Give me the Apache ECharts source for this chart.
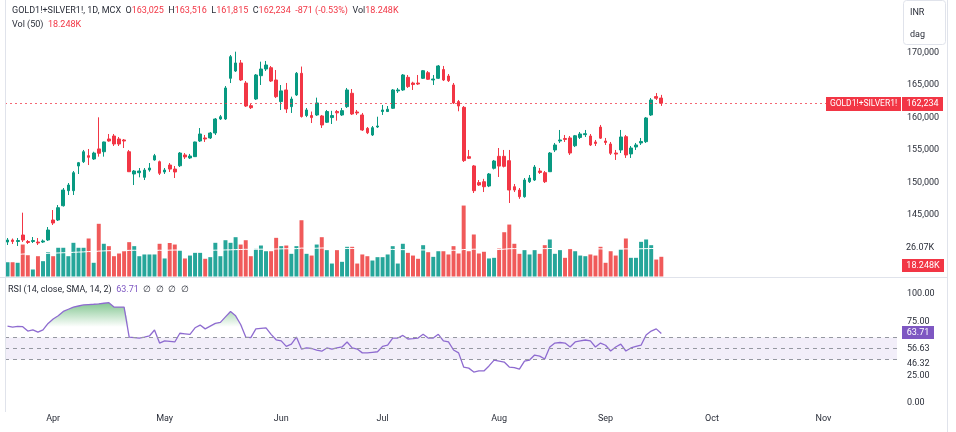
<!DOCTYPE html>
<html><head><meta charset="utf-8">
<script src="https://cdn.jsdelivr.net/npm/echarts@6/dist/echarts.min.js"></script>
<style>html,body{margin:0;padding:0;background:#fff}#c{width:956px;height:432px}</style>
</head><body><div id="c"></div>
<script>
// ---- trading days (2024) ----
const marDays=[19,20,21,22,25,26,27,28,29];
const aprDays=[1,2,3,4,5,8,9,10,11,12,15,16,17,18,19,22,23,24,25,26,29,30];
const mayDays=[1,2,3,6,7,8,9,10,13,14,15,16,17,20,21,22,23,24,27,28,29,30,31];
const junDays=[3,4,5,6,7,10,11,12,13,14,17,18,19,20,21,24,25,26,27,28];
const julDays=[1,2,3,4,5,8,9,10,11,12,15,16,17,18,19,22,23,24,25,26,29,30,31];
const augDays=[1,2,5,6,7,8,9,12,13,14,16,19,20,21,22,23,26,27,28,29,30];
const sepDays=[2,3,4,5,6,9,10,11,12,13,16,17,18,19,20,23,24,25,26,27,30];
const octDays=[1,3,4,7,8,9,10,11,14,15,16,17,18,21,22,23,24,25,28,29,30,31];
const novDays=[1,4,5,6,7,8,11,12,13,14,15,18,19,20,21];
const monthNames=['Jan','Feb','Mar','Apr','May','Jun','Jul','Aug','Sep','Oct','Nov','Dec'];

// ---- OHLC [open, high, low, close] ----
const ohlc=[
[140850,141470,140390,141160],[141160,141390,140550,140930],[140930,141470,140240,141080],[141930,145370,140850,141160],
[140930,141160,140550,140780],[140930,141620,140700,141080],[140850,141470,140390,140700],[140850,141240,140700,141010],
[141160,143160,141010,142700],[144240,145780,143470,143780],[144240,146550,144090,146140],[146440,149170,146310,148860],
[148760,149940,148090,149630],[148760,151790,148090,151530],[152560,153180,151330,153070],[153220,155030,153020,154760],
[154150,155180,152710,153900],[153640,154760,153490,154560],[155190,160060,154000,154520],[154760,156310,154000,156260],
[156720,157490,156310,156410],[157180,157490,155640,155950],[156720,157030,155640,155950],[156570,156720,155330,156410],
[154760,155030,151640,151680],[151330,151940,149630,151790],[151530,152250,150820,151790],[150820,152250,150400,151940],
[151940,153020,151680,152250],[153490,154420,153390,154150],[153220,153390,151170,151440],[151640,152250,151330,151940],
[152710,153020,151640,152090],[152090,152560,150710,151640],[152600,154710,152400,154560],[154260,154560,153640,153950],
[153800,154420,153640,154100],[154000,156310,153950,156260],[156410,158410,156260,157490],[156880,157340,156260,156720],
[156880,157800,156720,157640],[157640,159950,157340,159800],[159800,160420,159650,160150],[159800,164880,159650,164580],
[166070,169660,165340,169400],[167190,170170,167040,168430],[168430,168890,165650,165810],[165340,165650,161650,161800],
[161850,162110,161340,161540],[162880,166730,162730,166580],[166470,168630,165040,167500],[167500,168740,167190,168120],
[167700,167960,165500,165650],[165810,167350,163030,163240],[162480,165040,161190,164130],[164270,165350,160730,161340],
[161700,163240,160730,162880],[163500,167040,163350,166840],[166840,167880,160020,160180],[160330,161500,160090,161190],
[160330,160950,159180,160020],[160420,163090,160270,162270],[160270,160420,158420,158880],[159300,161190,159180,160950],
[160020,161060,159030,160330],[160950,161190,159540,160750],[160420,161500,160270,161090],[161700,164580,161500,164270],
[163760,164420,160420,160570],[160880,161190,160420,160730],[160420,160730,157960,158110],[158360,158570,157480,157680],
[157340,158720,157180,158460],[158570,160150,158420,158720],[160950,161960,160420,161190],[160950,161800,160880,161300],
[161450,164420,161340,164270],[164130,164580,163810,164270],[164270,166730,164130,166580],[166220,166580,164580,164790],
[165340,165540,164270,165110],[165340,166580,165040,165190],[166070,167350,165960,167240],[166930,167190,165810,165920],
[165810,166580,165040,165960],[166070,168120,165960,167970],[167420,167970,165650,165810],[166420,166730,165500,165700],
[165040,165350,162110,162270],[162480,162730,160990,161800],[161600,161800,153180,153390],[154000,155030,153640,153750],
[152570,152710,148400,148760],[150000,150400,149480,149630],[150140,150580,148550,149370],[149480,151480,149310,151330],
[152210,153490,152030,153330],[154050,155330,150870,152550],[154050,155030,152340,152510],[153380,155030,146860,148860],
[149370,149790,148550,148860],[148860,149170,147500,147830],[147830,150710,147680,150400],[150140,151170,149940,150710],
[150400,152710,150250,152400],[151790,152250,151330,151560],[151530,151790,149940,150140],[151680,154710,151640,154560],
[155030,156110,154710,155800],[156410,158110,156110,156570],[156800,157340,156260,156650],[156880,157180,154260,154560],
[155680,157340,155480,157220],[156960,157800,156720,157490],[157390,158110,157030,157540],[157180,157490,155640,155800],
[156260,156570,155640,156030],[158550,158880,156720,156850],[156410,156880,155800,156180],[155950,156260,154260,154520],
[154560,155030,153490,154400],[155030,158110,154560,157030],[157080,157340,153800,154260],[154420,155640,153800,155330],
[155490,156110,155030,155800],[156110,156880,155800,156340],[156310,160110,156110,159960],[160420,163030,160270,162730],
[163250,163800,162730,163000],[163025,163516,161815,162234]
];

// ---- volume (thousands) ----
const volumeK=[
13.2,13.2,12.7,29.6,19.7,6.5,18.8,14.2,22.5,18.8,26.6,26.6,18.8,31.2,26.6,26.6,35.2,12.7,48.8,30.3,
28.1,18.8,21.3,23.4,31.8,28.1,18.8,20.4,20.4,20.4,30.3,16.7,31.0,29.6,24.1,16.7,19.4,21.9,21.9,16.4,
17.9,31.2,18.8,33.6,31.2,36.4,29.6,33.6,18.8,25.6,28.7,23.4,23.4,35.8,28.1,28.7,21.0,28.1,52.1,21.0,
19.4,29.6,36.4,24.4,12.0,24.4,13.6,27.5,27.5,12.0,20.4,18.8,14.8,17.9,17.9,20.4,28.1,12.0,30.3,21.9,
19.4,16.4,29.0,22.5,18.2,23.4,23.4,20.4,28.1,21.3,65.7,23.4,38.9,21.3,22.9,16.7,17.3,25.9,41.0,48.1,
30.3,21.0,24.4,20.4,24.4,21.0,29.0,34.3,21.0,24.4,17.3,25.6,23.4,19.4,18.8,20.4,19.4,27.5,12.7,23.4,
19.4,25.0,35.2,17.3,17.3,32.1,34.3,29.0,15.7,18.248
];
const volumeMAK=[
20.0,20.2,20.3,20.8,21.0,20.8,21.0,21.1,21.5,21.6,21.8,22.0,22.1,22.4,22.6,22.8,23.1,23.0,23.5,23.7,
23.9,23.9,24.0,24.0,24.2,24.3,24.2,24.2,24.1,24.1,24.3,24.2,24.4,24.5,24.5,24.4,24.4,24.4,24.3,24.2,
24.2,24.4,24.4,24.6,24.7,24.9,25.0,25.2,25.1,25.2,25.3,25.3,25.3,25.5,25.6,25.7,25.7,25.8,26.3,26.2,
26.1,26.2,26.4,26.4,26.2,26.2,26.0,26.0,26.0,25.8,25.7,25.6,25.4,25.3,25.2,25.1,25.1,24.9,24.9,24.8,
24.7,24.6,24.6,24.5,24.4,24.3,24.3,24.2,24.3,24.2,25.0,25.0,25.3,25.2,25.1,25.0,24.9,25.0,25.3,25.7,
25.8,25.8,25.8,25.8,25.8,25.7,25.8,25.9,25.9,25.9,25.8,25.8,25.8,25.7,25.6,25.6,25.6,25.6,25.4,25.4,
25.4,25.5,25.6,25.5,25.5,25.7,25.8,25.9,26.0,26.07
];

// ---- RSI ----
const rsiValues=[
70.6,69.7,70.3,70,66,67,65,67,73,77,80,84,86,88,89,90,90.3,90.6,91,91.5,
92,88,88,88,60.5,60,59.6,60.4,61.5,67,55,57,56.5,56,64,63.5,63,69,71.5,68,
70.5,73,74,79,84,80,72,60.5,60,68,68.5,69,63,58,57,52,54,60.5,49.5,50.5,
50,48.6,47.5,50.5,49.5,50.5,51.4,56,50.5,49.5,46,46,46.5,47,52,53,59.6,59.6,62,58.7,
59,59.6,63,59.6,59.6,63,57,56,48.6,46,33,32,28.4,29.4,29.4,34,39.4,38.5,37.6,33,
32.5,31,38.5,39.4,44,43,40.4,51.4,55,55.5,55,51.4,56,57,57.8,57,51.4,55,53,47.7,
51.4,54,47.7,50.5,52,53,62.4,66,68,63.71
];
const rsiBands=[60,50,40];
const rsiOverbought=70;
const priceTicks=[145000,150000,155000,160000,165000,170000];
const rsiTicks=[0,25,75,100];

// ---- build categories ----
const monthLists=[[3,marDays],[4,aprDays],[5,mayDays],[6,junDays],[7,julDays],[8,augDays],[9,sepDays],[10,octDays],[11,novDays]];
const dates=[];
monthLists.forEach(([m,days])=>days.forEach(d=>dates.push('2024-'+String(m).padStart(2,'0')+'-'+String(d).padStart(2,'0'))));

const UP='#089981', DOWN='#f23645';
const VUP='#26a69a', VDOWN='#f05a5a';
const candleData=ohlc.map(([o,h,l,c])=>[o,c,l,h]);
const volData=volumeK.map((v,i)=>({value:v,itemStyle:{color: ohlc[i][3]>=ohlc[i][0]?VUP:VDOWN}}));
const last=ohlc[ohlc.length-1];
const F='Roboto, "Liberation Sans", sans-serif';
const TXT='#2a2e39';

const chart=echarts.init(document.getElementById('c'),null,{renderer:'canvas'});
const L=5,R=59;
chart.setOption({
  animation:false,
  backgroundColor:'#ffffff',
  textStyle:{fontFamily:F},
  grid:[
    {left:L,right:R,top:0,height:280},
    {left:L,right:R,top:176.5,height:100},
    {left:L,right:R,top:294,height:109}
  ],
  xAxis:[
    {type:'category',data:dates,gridIndex:0,show:false},
    {type:'category',data:dates,gridIndex:1,show:false},
    {type:'category',data:dates,gridIndex:2,
     axisLine:{show:false},axisTick:{show:false},splitLine:{show:false},
     axisLabel:{color:TXT,fontSize:9,fontFamily:F,margin:11,
       interval:(i,v)=> i>0 && v.slice(0,7)!==dates[i-1].slice(0,7),
       formatter:v=>monthNames[parseInt(v.slice(5,7),10)-1]}}
  ],
  yAxis:[
    {type:'value',gridIndex:0,position:'right',min:135000,max:178131,interval:5000,scale:true,
     axisLine:{show:false},axisTick:{show:false},splitLine:{show:false},
     axisLabel:{color:TXT,fontSize:9,fontFamily:F,margin:10,align:'left',
       formatter:v=>priceTicks.includes(v)?v.toLocaleString('en-US'):''}},
    {type:'value',gridIndex:1,min:0,max:92.6,show:false},
    {type:'value',gridIndex:2,position:'right',min:0,max:100,interval:25,
     axisLine:{show:false},axisTick:{show:false},splitLine:{show:false},
     axisLabel:{color:TXT,fontSize:9,fontFamily:F,margin:10,align:'left',
       formatter:v=>rsiTicks.includes(v)?v.toFixed(2):''}}
  ],
  series:[
    {type:'bar',xAxisIndex:1,yAxisIndex:1,data:volData,barWidth:'78%',z:1,silent:true},
    {type:'line',xAxisIndex:1,yAxisIndex:1,data:volumeMAK,showSymbol:false,z:2,silent:true,
     lineStyle:{color:'#ffffff',width:1}},
    {type:'candlestick',xAxisIndex:0,yAxisIndex:0,data:candleData,barWidth:3.2,z:3,
     itemStyle:{color:UP,color0:DOWN,borderColor:UP,borderColor0:DOWN,borderWidth:1},
     markLine:{symbol:'none',silent:true,label:{show:false},
       lineStyle:{color:DOWN,type:[2,3],width:1,opacity:0.75},
       data:[{yAxis:last[3]}]}},
    {type:'line',xAxisIndex:2,yAxisIndex:2,data:rsiValues.map(()=>rsiOverbought),stack:'ob',
     showSymbol:false,lineStyle:{opacity:0},silent:true,z:1},
    {type:'line',xAxisIndex:2,yAxisIndex:2,data:rsiValues.map(v=>Math.max(v,rsiOverbought)-rsiOverbought),stack:'ob',
     showSymbol:false,lineStyle:{opacity:0},silent:true,z:1,
     areaStyle:{opacity:1,color:{type:'linear',x:0,y:294,x2:0,y2:327,global:true,
       colorStops:[{offset:0,color:'rgba(46,160,70,0.8)'},{offset:1,color:'rgba(46,160,70,0.0)'}]}}},
    {type:'line',xAxisIndex:2,yAxisIndex:2,data:rsiValues,showSymbol:false,z:4,
     lineStyle:{color:'#8e6bd0',width:1.3},
     markArea:{silent:true,itemStyle:{color:'rgba(126,87,194,0.10)'},
       data:[[{yAxis:rsiBands[2]},{yAxis:rsiBands[0]}]]},
     markLine:{symbol:'none',silent:true,label:{show:false},
       lineStyle:{color:'#9598a1',type:[4,4],width:1},
       data:rsiBands.map(b=>({yAxis:b}))}}
  ],
  graphic:[
    {type:'line',shape:{x1:5.5,y1:0,x2:5.5,y2:412},style:{stroke:'#e0e3eb',lineWidth:1},z:50},
    {type:'line',shape:{x1:0,y1:277.5,x2:948,y2:277.5},style:{stroke:'#e0e3eb',lineWidth:1},z:50},
    {type:'line',shape:{x1:947.5,y1:0,x2:947.5,y2:432},style:{stroke:'#e0e3eb',lineWidth:1},z:50},
    {type:'text',x:12,y:11,z:60,style:{
      text:'{d|GOLD1!+SILVER1!, 1D, MCX}  {d|O}{r|163,025}  {d|H}{r|163,516}  {d|L}{r|161,815}  {d|C}{r|162,234}  {r|-871 (-0.53%)}  {d|Vol}{r|18.248K}',
      verticalAlign:'middle',font:'9px '+F,
      rich:{d:{fill:TXT,fontSize:9,fontFamily:F},r:{fill:DOWN,fontSize:9,fontFamily:F}}}},
    {type:'text',x:12,y:25,z:60,style:{
      text:'{d|Vol (50)}  {r|18.248K}',verticalAlign:'middle',font:'9px '+F,
      rich:{d:{fill:TXT,fontSize:9,fontFamily:F},r:{fill:DOWN,fontSize:9,fontFamily:F}}}},
    {type:'text',x:8,y:290,z:60,style:{
      text:'{d|RSI (14, close, SMA, 14, 2)}  {p|63.71}  {d|∅  ∅  ∅  ∅}',verticalAlign:'middle',font:'9px '+F,
      rich:{d:{fill:TXT,fontSize:9,fontFamily:F},p:{fill:'#7e57c2',fontSize:9,fontFamily:F}}}},
    {type:'rect',shape:{x:903.5,y:0.5,width:42,height:44,r:3},style:{fill:'#ffffff',stroke:'#e0e3eb',lineWidth:1},z:70},
    {type:'text',x:910,y:13,z:71,style:{text:'INR',fill:TXT,font:'9px '+F,verticalAlign:'middle'}},
    {type:'text',x:910,y:35,z:71,style:{text:'dag',fill:TXT,font:'9px '+F,verticalAlign:'middle'}},
    {type:'rect',shape:{x:826,y:97,width:75,height:14},style:{fill:'#f23645'},z:70},
    {type:'text',x:863.5,y:104,z:71,style:{text:'GOLD1!+SILVER1!',fill:'#ffffff',font:'8.5px '+F,align:'center',verticalAlign:'middle'}},
    {type:'rect',shape:{x:902,y:97,width:41,height:14},style:{fill:'#f23645'},z:70},
    {type:'text',x:922.5,y:104,z:71,style:{text:'162,234',fill:'#ffffff',font:'9px '+F,align:'center',verticalAlign:'middle'}},
    {type:'text',x:906,y:248,z:71,style:{text:'26.07K',fill:TXT,font:'9px '+F,verticalAlign:'middle'}},
    {type:'rect',shape:{x:902,y:259,width:42,height:13},style:{fill:'#f23645'},z:70},
    {type:'text',x:923,y:265.5,z:71,style:{text:'18.248K',fill:'#ffffff',font:'9px '+F,align:'center',verticalAlign:'middle'}},
    {type:'rect',shape:{x:902,y:326,width:32,height:13},style:{fill:'#7e57c2'},z:70},
    {type:'text',x:918,y:332.5,z:71,style:{text:'63.71',fill:'#ffffff',font:'9px '+F,align:'center',verticalAlign:'middle'}},
    {type:'text',x:907,y:349,z:71,style:{text:'56.63',fill:TXT,font:'9px '+F,verticalAlign:'middle'}},
    {type:'text',x:907,y:364,z:71,style:{text:'46.32',fill:TXT,font:'9px '+F,verticalAlign:'middle'}}
  ]
});
</script></body></html>
